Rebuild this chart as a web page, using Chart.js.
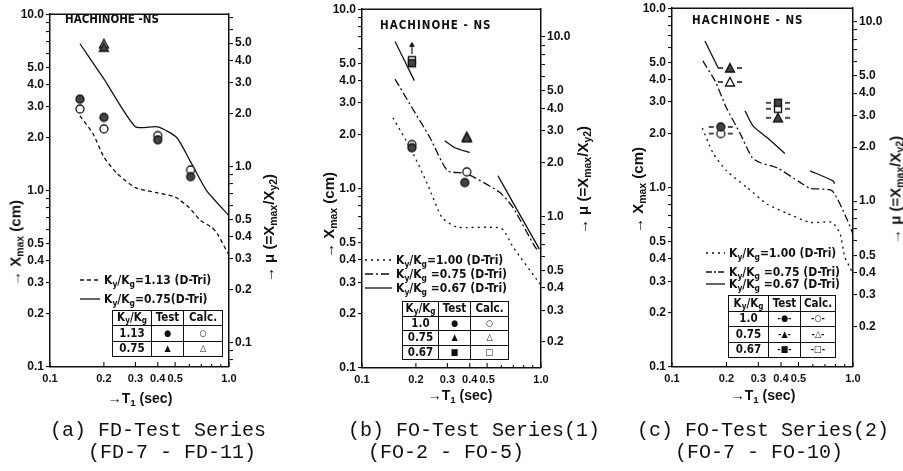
<!DOCTYPE html>
<html lang="en">
<head>
<meta charset="UTF-8">
<title>Xmax vs T1 - HACHINOHE-NS</title>
<script src="https://cdn.jsdelivr.net/npm/chart.js"></script>
<style>
    body {
        margin: 0;
        width: 903px;
        height: 471px;
        position: relative;
        overflow: hidden;
        background: #fff;
        color: #111;
        font-family: 'Liberation Sans', Arial, sans-serif;
    }
    canvas { position: absolute; }
    .t { position: absolute; white-space: nowrap; }
    .v { transform: translate(-50%, -50%) rotate(-90deg); font-size: 15px; font-weight: bold; }
    .xt { transform: translate(-50%, -50%); font-size: 14px; font-weight: bold; }
    .site { transform: translateY(-50%); font-family: 'Liberation Sans Narrow', 'DejaVu Sans Condensed', sans-serif; font-size: 11.5px; font-weight: bold; }
    .cap { transform: translateY(-50%); font-family: 'Liberation Mono', 'DejaVu Sans Mono', monospace; font-size: 20px; }
    .leg { transform: translateY(-50%); display: flex; align-items: center; gap: 4px;
           font-family: 'Liberation Sans Narrow', 'DejaVu Sans Condensed', sans-serif; font-size: 12px; font-weight: bold; }
    sub { font-size: 70%; vertical-align: -0.3em; line-height: 0; }
    table.kt { position: absolute; border-collapse: collapse; table-layout: fixed;
               font-family: 'Liberation Sans Narrow', 'DejaVu Sans Condensed', sans-serif; font-size: 11.5px; font-weight: bold; }
    table.kt td { border: 1.5px solid #111; text-align: center; padding: 0; line-height: 1; }
    td.m { font-size: 9px; }
</style>
</head>
<body>
    <canvas id="chartA" width="263" height="386" style="left:2px;top:5px"></canvas>
    <canvas id="chartB" width="263" height="392" style="left:314px;top:0px"></canvas>
    <canvas id="chartC" width="265" height="392" style="left:624px;top:-1px"></canvas>

    <!-- panel (a) -->
    <div class="t site" style="left:65px;top:19px">HACHINOHE -NS</div>
    <div class="t v" style="left:15px;top:243px">&rarr; X<sub>max</sub> (cm)</div>
    <div class="t v" style="left:268px;top:228px">&rarr; &mu; (=X<sub>max</sub>/X<sub>y2</sub>)</div>
    <div class="t xt" style="left:140px;top:398px">&rarr;T<sub>1</sub> (sec)</div>
    <div class="t leg" style="left:80px;top:280px">
        <svg width="20" height="6"><line x1="0" y1="3" x2="20" y2="3" stroke="#111" stroke-width="1.3" stroke-dasharray="4 3"/></svg>
        <span>K<sub>y</sub>/K<sub>g</sub>=1.13 (D-Tri)</span></div>
    <div class="t leg" style="left:80px;top:299px">
        <svg width="20" height="6"><line x1="0" y1="3" x2="20" y2="3" stroke="#111" stroke-width="1.3"/></svg>
        <span>K<sub>y</sub>/K<sub>g</sub>=0.75(D-Tri)</span></div>
    <table class="kt" style="left:112px;top:310px;width:110px;height:47px">
        <colgroup><col style="width:39px"><col style="width:32px"><col style="width:39px"></colgroup>
        <tr><td>K<sub>y</sub>/K<sub>g</sub></td><td>Test</td><td>Calc.</td></tr>
        <tr><td>1.13</td><td class="m">&#9679;</td><td class="m">&#9675;</td></tr>
        <tr><td>0.75</td><td class="m">&#9650;</td><td class="m">&#9651;</td></tr>
    </table>
    <div class="t cap" style="left:50px;top:430px">(a) FD-Test Series</div>
    <div class="t cap" style="left:88px;top:452px">(FD-7 - FD-11)</div>

    <!-- panel (b) -->
    <div class="t site" style="left:380px;top:25px;letter-spacing:1px">HACHINOHE - NS</div>
    <div class="t v" style="left:328px;top:215px">&rarr; X<sub>max</sub> (cm)</div>
    <div class="t v" style="left:582px;top:180px">&rarr; &mu; (=X<sub>max</sub>/X<sub>y2</sub>)</div>
    <div class="t xt" style="left:460px;top:395px">&rarr;T<sub>1</sub> (sec)</div>
    <div class="t leg" style="left:365px;top:260px">
        <svg width="27" height="6"><line x1="0" y1="3" x2="27" y2="3" stroke="#111" stroke-width="1.3" stroke-dasharray="2 4"/></svg>
        <span>K<sub>y</sub>/K<sub>g</sub>=1.00 (D-Tri)</span></div>
    <div class="t leg" style="left:365px;top:274px">
        <svg width="27" height="6"><line x1="0" y1="3" x2="27" y2="3" stroke="#111" stroke-width="1.3" stroke-dasharray="8 3 2 3"/></svg>
        <span>K<sub>y</sub>/K<sub>g</sub> =0.75 (D-Tri)</span></div>
    <div class="t leg" style="left:365px;top:288px">
        <svg width="27" height="6"><line x1="0" y1="3" x2="27" y2="3" stroke="#111" stroke-width="1.3"/></svg>
        <span>K<sub>y</sub>/K<sub>g</sub> =0.67 (D-Tri)</span></div>
    <table class="kt" style="left:402px;top:301px;width:106px;height:59px">
        <colgroup><col style="width:36px"><col style="width:32px"><col style="width:38px"></colgroup>
        <tr><td>K<sub>y</sub>/K<sub>g</sub></td><td>Test</td><td>Calc.</td></tr>
        <tr><td>1.0</td><td class="m">&#9679;</td><td class="m">&#9675;</td></tr>
        <tr><td>0.75</td><td class="m">&#9650;</td><td class="m">&#9651;</td></tr>
        <tr><td>0.67</td><td class="m">&#9632;</td><td class="m">&#9633;</td></tr>
    </table>
    <div class="t cap" style="left:348px;top:430px">(b) FO-Test Series(1)</div>
    <div class="t cap" style="left:368px;top:452px">(FO-2 - FO-5)</div>

    <!-- panel (c) -->
    <div class="t site" style="left:692px;top:20px;letter-spacing:1px">HACHINOHE - NS</div>
    <div class="t v" style="left:637px;top:190px">&rarr; X<sub>max</sub> (cm)</div>
    <div class="t v" style="left:895px;top:190px">&rarr; &mu; (=X<sub>max</sub>/X<sub>y2</sub>)</div>
    <div class="t xt" style="left:763px;top:395px">&rarr;T<sub>1</sub> (sec)</div>
    <div class="t leg" style="left:706px;top:253px">
        <svg width="19" height="6"><line x1="0" y1="3" x2="19" y2="3" stroke="#111" stroke-width="1.3" stroke-dasharray="2 4"/></svg>
        <span>K<sub>y</sub>/K<sub>g</sub>=1.00 (D-Tri)</span></div>
    <div class="t leg" style="left:706px;top:272px">
        <svg width="19" height="6"><line x1="0" y1="3" x2="19" y2="3" stroke="#111" stroke-width="1.3" stroke-dasharray="6 2 2 2"/></svg>
        <span>K<sub>y</sub>/K<sub>g</sub> =0.75 (D-Tri)</span></div>
    <div class="t leg" style="left:706px;top:284px">
        <svg width="19" height="6"><line x1="0" y1="3" x2="19" y2="3" stroke="#111" stroke-width="1.3"/></svg>
        <span>K<sub>y</sub>/K<sub>g</sub> =0.67 (D-Tri)</span></div>
    <table class="kt" style="left:728px;top:295px;width:107px;height:63px">
        <colgroup><col style="width:40px"><col style="width:32px"><col style="width:35px"></colgroup>
        <tr><td>K<sub>y</sub>/K<sub>g</sub></td><td>Test</td><td>Calc.</td></tr>
        <tr><td>1.0</td><td class="m">-&#9679;-</td><td class="m">-&#9675;-</td></tr>
        <tr><td>0.75</td><td class="m">-&#9650;-</td><td class="m">-&#9651;-</td></tr>
        <tr><td>0.67</td><td class="m">-&#9632;-</td><td class="m">-&#9633;-</td></tr>
    </table>
    <div class="t cap" style="left:637px;top:430px">(c) FO-Test Series(2)</div>
    <div class="t cap" style="left:675px;top:452px">(FO-7 - FO-10)</div>

<script>
    // ---- axis labels ----
    const tLabels = [0.1, 0.2, 0.3, 0.4, 0.5, 1.0];
    const xmaxLabels = [0.1, 0.2, 0.3, 0.4, 0.5, 1.0, 2.0, 3.0, 4.0, 5.0, 10.0];
    const muLabelsA = [0.1, 0.2, 0.3, 0.4, 0.5, 1.0, 2.0, 3.0, 4.0, 5.0];
    const muLabelsBC = [0.2, 0.3, 0.4, 0.5, 1.0, 2.0, 3.0, 4.0, 5.0, 10.0];
    // Xy2 (cm) of each series, so that mu = Xmax / Xy2
    const xy2A = 1.37, xy2B = 0.70, xy2C = 0.84;

    // ---- (a) FD-Test Series : T1 (sec) / Xmax (cm) ----
    const aDashT  = [0.147, 0.174, 0.2, 0.237, 0.3, 0.4, 0.5, 0.6, 0.69, 0.8, 0.86, 1.0];
    const aDashX  = [2.65, 2.1, 1.55, 1.25, 1.04, 0.97, 0.92, 0.80, 0.68, 0.62, 0.57, 0.43];
    const aSolidT = [0.147, 0.2, 0.3, 0.4, 0.51, 0.605, 0.75, 1.0];
    const aSolidX = [6.8, 4.3, 2.3, 2.3, 2.0, 1.48, 1.0, 0.72];
    const aCircT  = [0.147, 0.2, 0.4, 0.61];
    const aCircTestX = [3.3, 2.6, 1.94, 1.2];
    const aCircCalcX = [2.9, 2.24, 2.05, 1.31];
    const aTriT = [0.2];
    const aTriTestX = [6.5];
    const aTriCalcX = [6.8];

    // ---- (b) FO-Test Series(1) ----
    const bDotT   = [0.149, 0.19, 0.234, 0.28, 0.34, 0.6, 0.7, 0.95, 1.0];
    const bDotX   = [2.48, 1.62, 1.04, 0.69, 0.61, 0.6, 0.47, 0.31, 0.29];
    const bDashDotT = [0.153, 0.185, 0.24, 0.30, 0.385, 0.59, 0.7, 0.93, 1.0];
    const bDashDotX = [4.08, 2.96, 1.92, 1.26, 1.21, 0.95, 0.78, 0.47, 0.44];
    const bSolidT = [0.153, 0.196, null, 0.29, 0.33, 0.40, null, 0.575, 0.7, 0.98];
    const bSolidX = [6.6, 4.0, null, 1.85, 1.69, 1.59, null, 1.18, 0.83, 0.46];
    const bCircTestT = [0.19, 0.375], bCircTestX = [1.69, 1.08];
    const bCircCalcT = [0.19, 0.385], bCircCalcX = [1.76, 1.24];
    const bTriT = [0.385], bTriTestX = [1.92], bTriCalcX = [1.95];
    const bSqT = [0.19], bSqTestX = [5.0], bSqCalcX = [5.2];
    const bArrowT = [0.19], bArrowX = [6.1];

    // ---- (c) FO-Test Series(2) ----
    const cDotT   = [0.147, 0.169, 0.2, 0.26, 0.335, 0.43, 0.58, 0.766, 0.85, 0.90, 0.96, 1.0];
    const cDotX   = [2.15, 1.55, 1.24, 1.0, 0.81, 0.72, 0.64, 0.64, 0.55, 0.41, 0.36, 0.33];
    const cDashDotT = [0.148, 0.173, 0.2, 0.238, 0.277, 0.306, 0.38, 0.51, 0.58, 0.766, 0.93, 1.0];
    const cDashDotX = [5.08, 3.93, 2.78, 2.0, 1.47, 1.38, 1.29, 1.07, 0.99, 0.96, 0.66, 0.55];
    const cSolidT = [0.152, 0.18, null, 0.253, 0.28, 0.335, 0.42, null, 0.58, 0.776, 0.79];
    const cSolidX = [6.56, 4.64, null, 2.68, 2.21, 1.90, 1.55, null, 1.24, 1.09, 1.05];
    const cCircT = [0.186], cCircTestX = [2.18], cCircCalcX = [2.0];
    const cTriTestT = [0.209, 0.385], cTriTestX = [4.64, 2.45];
    const cTriCalcT = [0.209], cTriCalcX = [3.88];
    const cSqT = [0.385], cSqTestX = [2.97], cSqCalcX = [2.75];

    function pts(ts, xs) {
        return ts.map((t, i) => ({ x: t, y: xs[i] }));
    }

    // small marker images; panel (c) marks have short dashes either side
    function mark(shape, filled, dashes) {
        const w = dashes ? 26 : 12, h = 12;
        const c = document.createElement('canvas');
        c.width = w; c.height = h;
        const g = c.getContext('2d');
        const cx = w / 2, cy = h / 2, r = 4;
        g.strokeStyle = '#111';
        g.lineWidth = 1.3;
        g.fillStyle = filled ? '#444' : '#fff';
        g.beginPath();
        if (shape === 'circle') {
            g.arc(cx, cy, r, 0, Math.PI * 2);
        } else if (shape === 'triangle') {
            g.moveTo(cx, cy - r - 0.5); g.lineTo(cx + r + 0.5, cy + r); g.lineTo(cx - r - 0.5, cy + r); g.closePath();
        } else {
            g.rect(cx - r + 0.5, cy - r + 0.5, 2 * r - 1, 2 * r - 1);
        }
        g.fill(); g.stroke();
        if (dashes) {
            g.beginPath();
            g.moveTo(1, cy); g.lineTo(6, cy);
            g.moveTo(w - 6, cy); g.lineTo(w - 1, cy);
            g.stroke();
        }
        return c;
    }

    function arrowUp() {
        const c = document.createElement('canvas');
        c.width = 8; c.height = 12;
        const g = c.getContext('2d');
        g.strokeStyle = '#111'; g.fillStyle = '#111'; g.lineWidth = 1.2;
        g.beginPath(); g.moveTo(4, 3); g.lineTo(4, 12); g.stroke();
        g.beginPath(); g.moveTo(4, 0); g.lineTo(7, 5); g.lineTo(1, 5); g.closePath(); g.fill();
        return c;
    }

    function marks(ts, xs, img) {
        return { data: pts(ts, xs), pointStyle: img, pointRadius: 5, showLine: false };
    }

    function curve(ts, xs, dash) {
        return {
            data: pts(ts, xs), showLine: true, borderColor: '#111', borderWidth: 1.3,
            borderDash: dash, pointRadius: 0, tension: 0.2, fill: false
        };
    }

    function logTicks(min, max) {
        const out = [];
        for (let e = -3; e <= 2; e++) {
            for (let m = 1; m <= 9; m++) {
                const v = +(m * Math.pow(10, e)).toPrecision(3);
                if (v >= min * 0.999 && v <= max * 1.001) out.push({ value: v });
            }
        }
        return out;
    }

    function logAxis(position, min, max, labels, size) {
        const horiz = position === 'bottom';
        return {
            type: 'logarithmic',
            position: position,
            min: min,
            max: max,
            afterBuildTicks: s => { s.ticks = logTicks(s.min, s.max); },
            afterFit: s => { if (horiz) s.height = size; else s.width = size; },
            border: { color: '#111', width: 1.5 },
            grid: {
                display: !horiz, drawOnChartArea: false, drawTicks: !horiz,
                tickLength: 4, color: '#111', lineWidth: 1.1
            },
            ticks: {
                autoSkip: false, maxRotation: 0, minRotation: 0,
                padding: horiz ? 5 : 2, color: '#111',
                font: { family: "'Liberation Sans', Arial, sans-serif", size: horiz ? 11 : 12, weight: 'bold' },
                callback: v => labels.some(l => Math.abs(l / v - 1) < 1e-6) ? v.toFixed(1) : ''
            }
        };
    }

    // top edge of the frame and inward ticks on the T1 axis
    const frameTicks = {
        id: 'frameTicks',
        afterDraw(chart) {
            const { ctx, chartArea: a } = chart;
            const sx = chart.scales.x;
            ctx.save();
            ctx.strokeStyle = '#111';
            ctx.lineWidth = 1.5;
            ctx.beginPath();
            ctx.moveTo(a.left, a.top); ctx.lineTo(a.right, a.top);
            ctx.stroke();
            ctx.lineWidth = 1.1;
            ctx.beginPath();
            sx.ticks.forEach(t => {
                const px = sx.getPixelForValue(t.value);
                ctx.moveTo(px, a.bottom);
                ctx.lineTo(px, a.bottom - (t.label ? 5 : 3));
            });
            ctx.stroke();
            ctx.restore();
        }
    };

    function makeChart(id, xy, muLabels, datasets) {
        return new Chart(document.getElementById(id), {
            type: 'scatter',
            data: { datasets: datasets },
            options: {
                responsive: false,
                animation: false,
                events: [],
                layout: { padding: { top: 8 } },
                plugins: { legend: { display: false }, tooltip: { enabled: false } },
                scales: {
                    x: logAxis('bottom', 0.1, 1.0, tLabels, 24),
                    y: logAxis('left', 0.1, 10, xmaxLabels, 48),
                    y2: logAxis('right', 0.1 / xy, 10 / xy, muLabels, 36)
                }
            },
            plugins: [frameTicks]
        });
    }

    const dotted = [2, 4], dashed = [4, 3], dashDot = [8, 3, 2, 3];

    makeChart('chartA', xy2A, muLabelsA, [
        marks(aCircT, aCircTestX, mark('circle', true)),
        marks(aCircT, aCircCalcX, mark('circle', false)),
        marks(aTriT, aTriTestX, mark('triangle', true)),
        marks(aTriT, aTriCalcX, mark('triangle', false)),
        curve(aDashT, aDashX, dashed),
        curve(aSolidT, aSolidX, [])
    ]);

    makeChart('chartB', xy2B, muLabelsBC, [
        marks(bCircTestT, bCircTestX, mark('circle', true)),
        marks(bCircCalcT, bCircCalcX, mark('circle', false)),
        marks(bTriT, bTriTestX, mark('triangle', true)),
        marks(bTriT, bTriCalcX, mark('triangle', false)),
        marks(bSqT, bSqTestX, mark('square', true)),
        marks(bSqT, bSqCalcX, mark('square', false)),
        marks(bArrowT, bArrowX, arrowUp()),
        curve(bDotT, bDotX, dotted),
        curve(bDashDotT, bDashDotX, dashDot),
        curve(bSolidT, bSolidX, [])
    ]);

    makeChart('chartC', xy2C, muLabelsBC, [
        marks(cCircT, cCircTestX, mark('circle', true, true)),
        marks(cCircT, cCircCalcX, mark('circle', false, true)),
        marks(cTriTestT, cTriTestX, mark('triangle', true, true)),
        marks(cTriCalcT, cTriCalcX, mark('triangle', false, true)),
        marks(cSqT, cSqTestX, mark('square', true, true)),
        marks(cSqT, cSqCalcX, mark('square', false, true)),
        curve(cDotT, cDotX, dotted),
        curve(cDashDotT, cDashDotX, dashDot),
        curve(cSolidT, cSolidX, [])
    ]);
</script>
</body>
</html>
